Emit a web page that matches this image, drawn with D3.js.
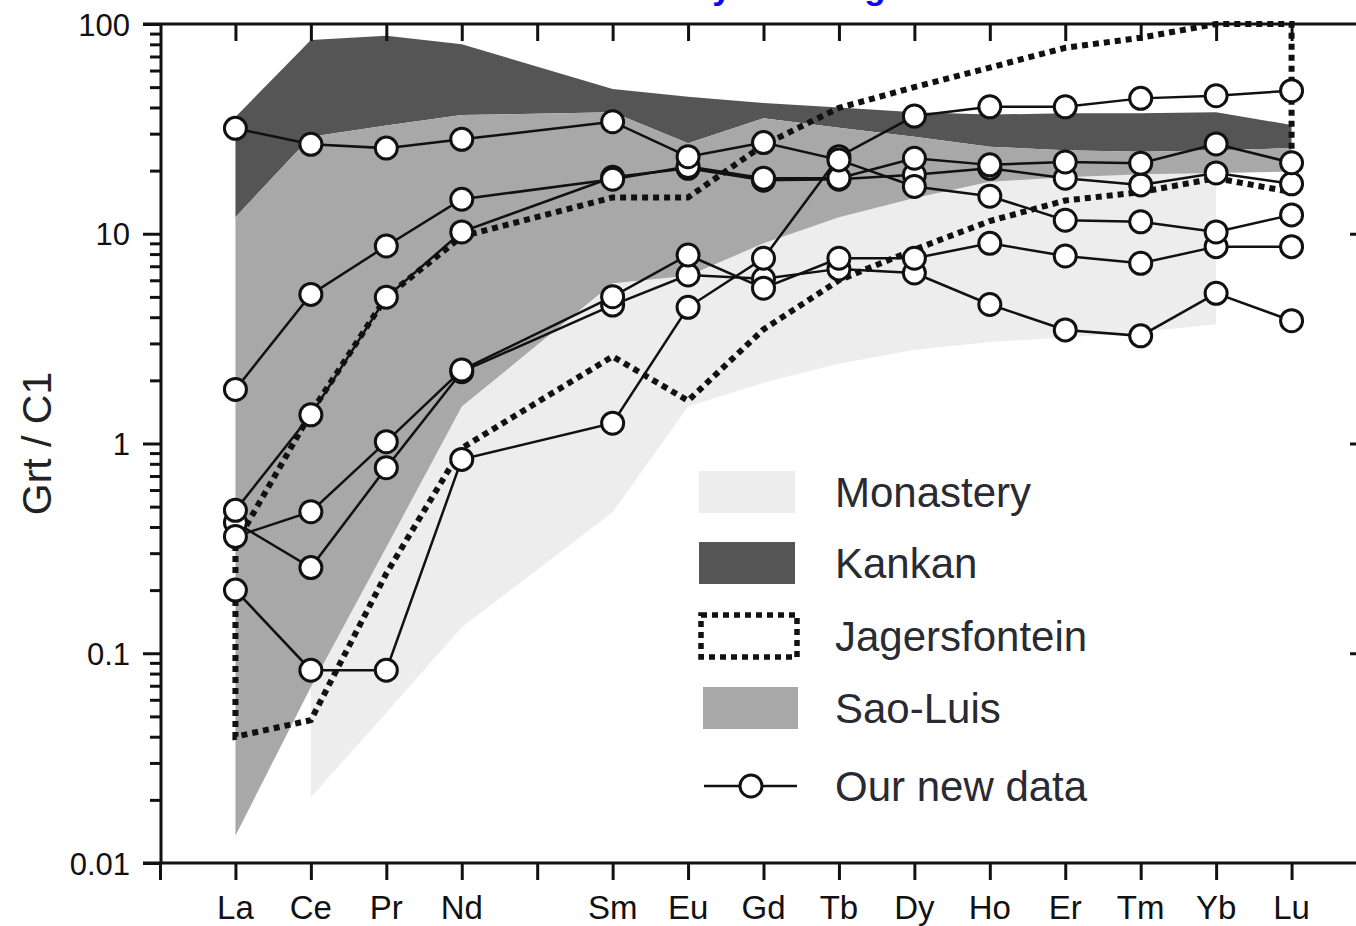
<!DOCTYPE html>
<html>
<head>
<meta charset="utf-8">
<script src="https://cdn.jsdelivr.net/npm/d3@7"></script>
<style>
  html, body { margin: 0; padding: 0; background: #fff; overflow: hidden; }
  text { font-family: "Liberation Sans", Arial, Helvetica, sans-serif; }
</style>
</head>
<body>
<svg id="chart" width="1356" height="926"></svg>
<script>
// ---- Data -------------------------------------------------------------
// REE order on the x axis (Pm keeps its slot but has no label)
const elements = ["La", "Ce", "Pr", "Nd", "Pm", "Sm", "Eu", "Gd", "Tb", "Dy", "Ho", "Er", "Tm", "Yb", "Lu"];
const tickLabels = ["La", "Ce", "Pr", "Nd", "Sm", "Eu", "Gd", "Tb", "Dy", "Ho", "Er", "Tm", "Yb", "Lu"];
const yTickValues = [0.01, 0.1, 1, 10, 100];
const yTickLabels = ["0.01", "0.1", "1", "10", "100"];

// elements used by the fields and the samples
const reeElements = ["La", "Ce", "Pr", "Nd", "Sm", "Eu", "Gd", "Tb", "Dy", "Ho", "Er", "Tm", "Yb", "Lu"];

// Monastery field (Ce..Yb)
const monasteryElements = ["Ce", "Pr", "Nd", "Sm", "Eu", "Gd", "Tb", "Dy", "Ho", "Er", "Tm", "Yb"];
const monasteryMax = [0.3, 1.5, 5, 12, 12, 15, 14, 17, 20, 21, 21, 21];
const monasteryMin = [0.0206, 0.052, 0.133, 0.47, 1.5, 1.95, 2.4, 2.8, 3.05, 3.2, 3.4, 3.7];

// Sao-Luis field (La..Lu)
const saoLuisMax = [12, 29, 32.8, 36.8, 38, 27, 35.5, 32, 29, 26, 25, 24.6, 25, 25.6];
const saoLuisMin = [0.0135, 0.069, 0.32, 1.5, 5.8, 6.3, 9.0, 12, 14.8, 17.7, 18.6, 19.2, 19.5, 19.8];

// Kankan field (La..Lu); its lower edge runs along the Sao-Luis upper edge
const kankanMax = [36, 84, 88, 80, 49, 45, 42, 40, 38, 37, 37.5, 37.5, 38, 33];
const kankanMin = [12, 29, 32.8, 36.8, 38, 27, 35.5, 32, 29, 26, 25, 24.6, 25, 25.6];

// Jagersfontein field outline (La..Lu)
const jagersfonteinMax = [0.33, 1.4, 5.0, 9.7, 14.9, 14.9, 26.5, 39.8, 50, 62, 77, 86, 100, 100];
const jagersfonteinMin = [0.04, 0.048, 0.24, 0.95, 2.6, 1.6, 3.5, 6.0, 8.4, 11.5, 14.4, 15.8, 18.4, 15.8];

// Our new garnet data, Grt / C1 (La..Lu)
const grt1 = [31.8, 26.7, 25.6, 28.2, 34.2, 23.3, 27.2, 22.5, 16.8, 15.1, 11.6, 11.4, 10.2, 12.3];
const grt2 = [1.81, 5.14, 8.74, 14.6, 18.2, 20.9, 18.4, 18.4, 22.9, 21.3, 22.0, 21.7, 26.8, 21.8];
const grt3 = [0.48, 1.37, 4.98, 10.2, 18.6, 20.5, 18.0, 18.2, 19.1, 20.5, 18.4, 17.1, 19.5, 17.3];
const grt4 = [0.36, 0.473, 1.02, 2.24, 5.01, 7.92, 5.5, 7.64, 7.64, 9.0, 7.83, 7.23, 8.68, 8.68];
const grt5 = [0.42, 0.256, 0.767, 2.2, 4.57, 6.36, 6.1, 6.8, 6.5, 4.6, 3.48, 3.26, 5.2, 3.85];
const grt6 = [0.20, 0.083, 0.083, 0.84, 1.25, 4.46, 7.64, 23.3, 36.4, 40.3, 40.3, 44.2, 45.5, 48.1];
// symbols are stacked in this order (last one on top)
const samples = [grt5, grt6, grt4, grt3, grt2, grt1];

const legendLabels = ["Monastery", "Kankan", "Jagersfontein", "Sao-Luis", "Our new data"];

// ---- Layout -----------------------------------------------------------
const svg = d3.select("#chart");
const FONT = '"Liberation Sans", Arial, Helvetica, sans-serif';
const INK = "#111";

const slot = el => elements.indexOf(el) + 1;           // 1..15
const x = d3.scaleLinear().domain([0, 16]).range([160, 1367]);
const y = d3.scaleLog().domain([0.01, 100]).range([863, 24]);

const colors = { monastery: "#ededed", kankan: "#555555", saoLuis: "#a8a8a8" };

function band(els, lo, hi) {
  const upper = els.map((e, i) => [x(slot(e)), y(hi[i])]);
  const lower = els.map((e, i) => [x(slot(e)), y(lo[i])]).reverse();
  return upper.concat(lower);
}
const polyLine = d3.line().curve(d3.curveLinearClosed);

// ---- Title (sits above the frame, only its descenders reach the page) ---
const title = svg.append("text")
  .attr("y", -1)
  .attr("font-family", FONT)
  .attr("font-weight", "bold")
  .attr("font-size", 40)
  .attr("fill", "#0a0af5")
  .text("Primary mantle garnets");
{
  const n = title.node();
  const yC = n.getSubStringLength(0, 6) + n.getSubStringLength(6, 1) / 2;
  const gC = n.getSubStringLength(0, 15) + n.getSubStringLength(15, 1) / 2;
  const fs = 40 * 153 / (gC - yC);
  title.attr("font-size", fs);
  const yC2 = n.getSubStringLength(0, 6) + n.getSubStringLength(6, 1) / 2;
  title.attr("x", 722 - yC2);
}

// ---- Fields -------------------------------------------------------------
const fields = svg.append("g");
fields.append("path")
  .attr("d", polyLine(band(monasteryElements, monasteryMin, monasteryMax)))
  .attr("fill", colors.monastery);
fields.append("path")
  .attr("d", polyLine(band(reeElements, kankanMin, kankanMax)))
  .attr("fill", colors.kankan);
fields.append("path")
  .attr("d", polyLine(band(reeElements, saoLuisMin, saoLuisMax)))
  .attr("fill", colors.saoLuis);
fields.append("path")
  .attr("d", polyLine(band(reeElements, jagersfonteinMin, jagersfonteinMax)))
  .attr("fill", "none")
  .attr("stroke", INK)
  .attr("stroke-width", 6)
  .attr("stroke-dasharray", "6,5");

// ---- Axes ---------------------------------------------------------------
const axes = svg.append("g");
const styleAxis = g => {
  g.select(".domain").remove();
  g.selectAll(".tick line").attr("stroke", INK).attr("stroke-width", 3);
};

// frame lines
axes.append("line").attr("x1", 143).attr("x2", x(16)).attr("y1", y(100)).attr("y2", y(100))
  .attr("stroke", INK).attr("stroke-width", 3);
axes.append("line").attr("x1", 143).attr("x2", x(16)).attr("y1", y(0.01)).attr("y2", y(0.01))
  .attr("stroke", INK).attr("stroke-width", 3);
axes.append("line").attr("x1", x(0) + 1).attr("x2", x(0) + 1).attr("y1", y(100)).attr("y2", y(0.01))
  .attr("stroke", INK).attr("stroke-width", 3);

// left: major ticks with labels
axes.append("g")
  .attr("transform", `translate(${x(0) + 1},0)`)
  .call(d3.axisLeft(y).tickValues(yTickValues).tickSize(18).tickPadding(13)
    .tickFormat((d, i) => yTickLabels[i]))
  .call(styleAxis)
  .call(g => g.selectAll(".tick text")
    .attr("font-family", FONT).attr("font-size", 31).attr("fill", INK)
    .attr("dy", "0.36em"));

// left: minor ticks
const minorValues = [];
[0.01, 0.1, 1, 10].forEach(dec => { for (let k = 2; k <= 9; k++) minorValues.push(dec * k); });
axes.append("g")
  .attr("transform", `translate(${x(0) + 1},0)`)
  .call(d3.axisLeft(y).tickValues(minorValues).tickSize(11).tickFormat(""))
  .call(styleAxis);

// right: inward major ticks
axes.append("g")
  .attr("transform", `translate(${x(16)},0)`)
  .call(d3.axisLeft(y).tickValues([0.1, 1, 10]).tickSize(17).tickFormat(""))
  .call(styleAxis);

// bottom: outward ticks + element labels
const slots = d3.range(0, 16);
axes.append("g")
  .attr("transform", `translate(0,${y(0.01)})`)
  .call(d3.axisBottom(x).tickValues(slots).tickSize(17).tickFormat(""))
  .call(styleAxis);
axes.append("g")
  .selectAll("text")
  .data(tickLabels)
  .join("text")
  .attr("x", d => x(slot(d)))
  .attr("y", 919)
  .attr("text-anchor", "middle")
  .attr("font-family", FONT)
  .attr("font-size", 33)
  .attr("fill", INK)
  .text(d => d);

// top: inward ticks
axes.append("g")
  .attr("transform", `translate(0,${y(100)})`)
  .call(d3.axisBottom(x).tickValues(d3.range(1, 16)).tickSize(17).tickFormat(""))
  .call(styleAxis);

// y axis title
svg.append("text")
  .attr("transform", `translate(51,${(y(100) + y(0.01)) / 2}) rotate(-90)`)
  .attr("text-anchor", "middle")
  .attr("font-family", FONT)
  .attr("font-size", 41)
  .attr("fill", "#222")
  .text("Grt / C1");

// ---- Sample lines and symbols --------------------------------------------
const sampleLine = d3.line()
  .x((d, i) => x(slot(reeElements[i])))
  .y(d => y(d));

const marks = svg.append("g");
marks.selectAll("path.sample")
  .data(samples)
  .join("path")
  .attr("class", "sample")
  .attr("d", d => sampleLine(d))
  .attr("fill", "none")
  .attr("stroke", INK)
  .attr("stroke-width", 2.5);

samples.forEach(s => {
  marks.append("g")
    .selectAll("circle")
    .data(s)
    .join("circle")
    .attr("cx", (d, i) => x(slot(reeElements[i])))
    .attr("cy", d => y(d))
    .attr("r", 11)
    .attr("fill", "#fff")
    .attr("stroke", INK)
    .attr("stroke-width", 3);
});

// ---- Legend ---------------------------------------------------------------
const legend = svg.append("g");
const lgTextX = 835;
const rowY = [492, 563, 636, 708, 786];   // row centres

legend.append("rect").attr("x", 699).attr("y", rowY[0] - 21).attr("width", 96).attr("height", 42)
  .attr("fill", colors.monastery);
legend.append("rect").attr("x", 699).attr("y", rowY[1] - 21).attr("width", 96).attr("height", 42)
  .attr("fill", colors.kankan);
legend.append("rect").attr("x", 701).attr("y", rowY[2] - 21).attr("width", 96).attr("height", 42)
  .attr("fill", "none").attr("stroke", INK).attr("stroke-width", 5.5).attr("stroke-dasharray", "6,5");
legend.append("rect").attr("x", 703).attr("y", rowY[3] - 21).attr("width", 95).attr("height", 42)
  .attr("fill", colors.saoLuis);
legend.append("line").attr("x1", 704).attr("x2", 797).attr("y1", rowY[4]).attr("y2", rowY[4])
  .attr("stroke", INK).attr("stroke-width", 2.5);
legend.append("circle").attr("cx", 751).attr("cy", rowY[4]).attr("r", 11)
  .attr("fill", "#fff").attr("stroke", INK).attr("stroke-width", 3);

legend.selectAll("text.lg")
  .data(legendLabels)
  .join("text")
  .attr("class", "lg")
  .attr("x", lgTextX)
  .attr("y", (d, i) => rowY[i] + 15)
  .attr("font-family", FONT)
  .attr("font-size", 42)
  .attr("fill", "#2a2a33")
  .text(d => d);
</script>
</body>
</html>
